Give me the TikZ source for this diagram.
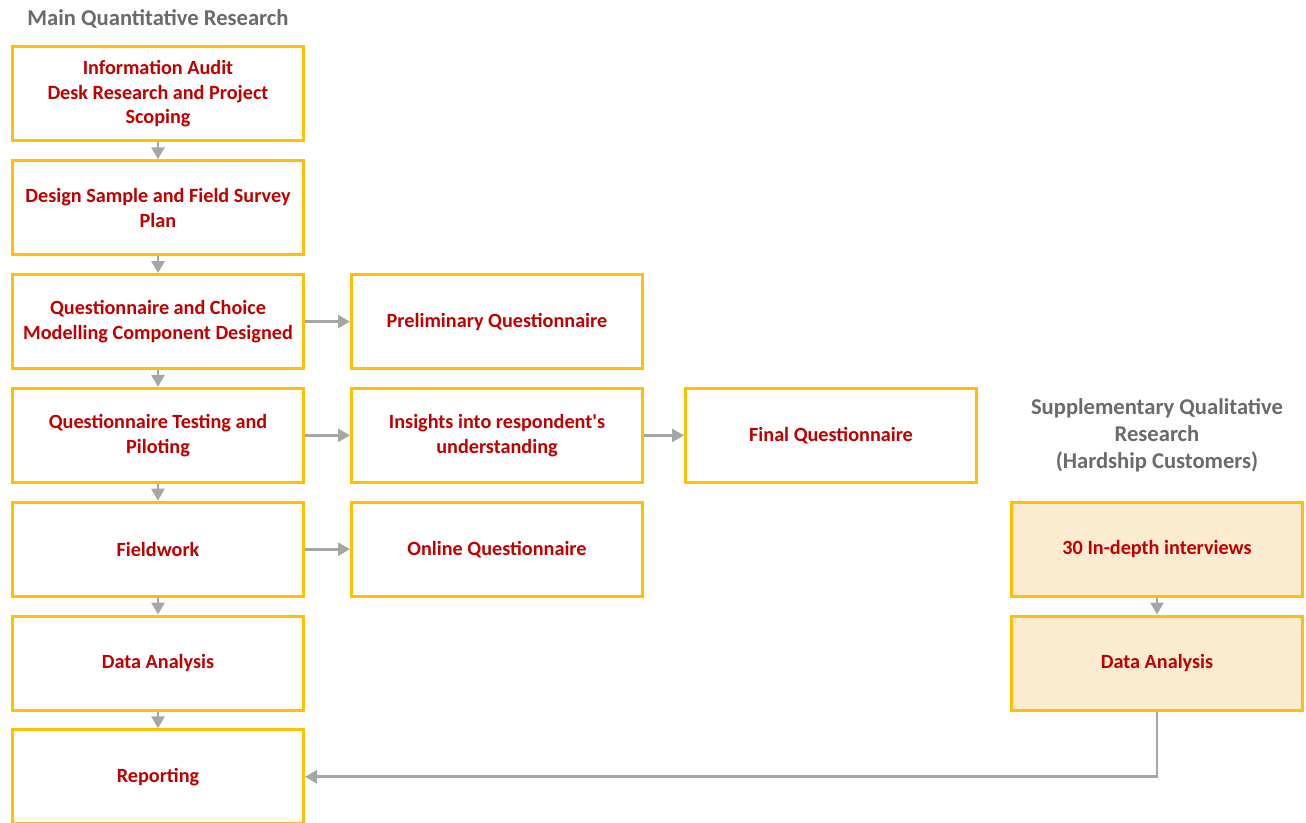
\documentclass[tikz,border=0pt]{standalone}
\usepackage{fontspec}
\setmainfont{Carlito}
\usepackage{tikz}
\usetikzlibrary{shapes, arrows.meta, positioning}
\definecolor{boxBorder}{HTML}{FFC000}
\definecolor{boxText}{HTML}{C00000}
\definecolor{qualFill}{HTML}{FBEBD0}
\definecolor{lineGray}{HTML}{A6A6A6}
\definecolor{headGray}{HTML}{6A6A6A}
\tikzstyle{heading} = [align=center, text=headGray, font=\bfseries\fontsize{11.3}{13.5}\selectfont, inner sep=0pt]
\tikzstyle{arrow} = [draw=lineGray, line width=1.4pt, -{Triangle[length=6pt,width=6.5pt]}]

\begin{document}
\begin{tikzpicture}[
    node distance=8.4pt and 22.5pt,
    quant/.style={draw=boxBorder, line width=1.5pt, rectangle, minimum width=145.5pt, minimum height=47pt, align=center, text=boxText, fill=white, font=\bfseries\fontsize{10.1}{12.3}\selectfont, inner sep=0pt},
    qual/.style={quant, fill=qualFill},
    line/.style={arrow}
]
\useasboundingbox (0,0) rectangle (653pt,-411.5pt);

% Main column
\node[quant] at (79pt,-47pt) (audit) {Information Audit\\Desk Research and Project\\Scoping};
\node[heading, above=8.5pt of audit] (mainhead) {Main Quantitative Research};
\node[quant, below=of audit] (sample) {Design Sample and Field Survey\\Plan};
\node[quant, below=of sample] (design) {Questionnaire and Choice\\Modelling Component Designed};
\node[quant, below=of design] (testing) {Questionnaire Testing and\\Piloting};
\node[quant, below=of testing] (field) {Fieldwork};
\node[quant, below=of field] (analysis) {Data Analysis};
\node[quant, below=of analysis] (report) {Reporting};

% Questionnaire outputs
\node[quant, right=of design] (prelim) {Preliminary Questionnaire};
\node[quant, right=of testing] (insight) {Insights into respondent\textquotesingle s\\understanding};
\node[quant, right=20pt of insight] (final) {Final Questionnaire};
\node[quant, right=of field] (online) {Online Questionnaire};

% Supplementary qualitative
\node[qual, right=183pt of online] (interviews) {30 In-depth interviews};
\node[heading, above=14pt of interviews] (qualhead) {Supplementary Qualitative\\Research\\(Hardship Customers)};
\node[qual, below=of interviews] (qualanalysis) {Data Analysis};

% Draw lines
\draw[line] (audit) -- (sample);
\draw[line] (sample) -- (design);
\draw[line] (design) -- (testing);
\draw[line] (testing) -- (field);
\draw[line] (field) -- (analysis);
\draw[line] (analysis) -- (report);
\draw[line] (design) -- (prelim);
\draw[line] (testing) -- (insight);
\draw[line] (insight) -- (final);
\draw[line] (field) -- (online);
\draw[line] (interviews) -- (qualanalysis);
\draw[line] (qualanalysis) |- (report);
\end{tikzpicture}
\end{document}
